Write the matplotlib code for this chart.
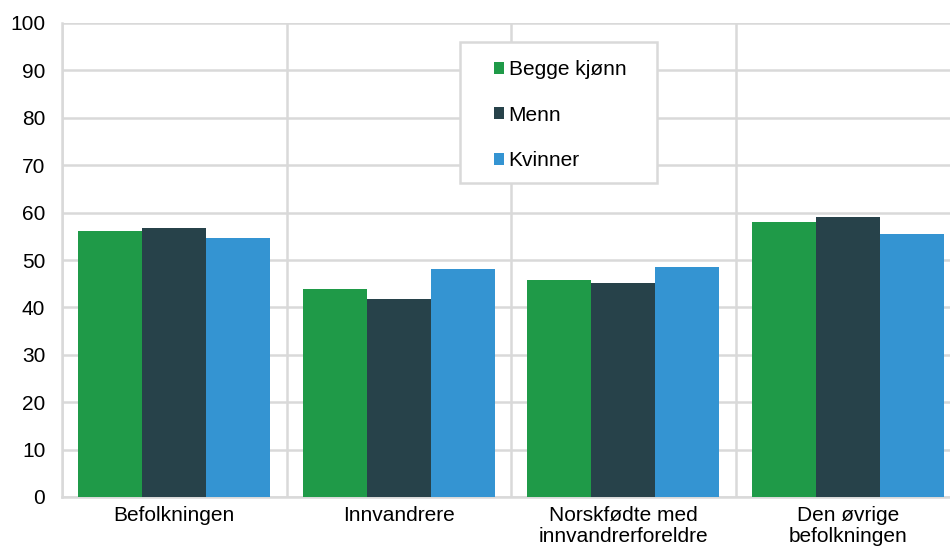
import numpy as np
import matplotlib
matplotlib.use("Agg")
import matplotlib.pyplot as plt
from matplotlib.patches import Patch, Rectangle

plt.rcParams['font.family'] = ['Liberation Sans', 'DejaVu Sans']

categories = ['Befolkningen', 'Innvandrere', 'Norskfødte med\ninnvandrerforeldre', 'Den øvrige\nbefolkningen']
series_names = ['Begge kjønn', 'Menn', 'Kvinner']
begge = [56.2, 43.9, 45.8, 58.0]
menn = [56.7, 41.7, 45.1, 59.0]
kvinner = [54.6, 48.2, 48.5, 55.5]
colors = ['#1f9a48', '#27424a', '#3494d2']

W, H = 950, 549
fs = 15
fig = plt.figure(figsize=(W / 100, H / 100), dpi=100)
ax = fig.add_axes([62 / W, 52 / H, 888 / W, 474 / H])

x = np.arange(len(categories))
w = 0.285
for i, (vals, c) in enumerate(zip([begge, menn, kvinner], colors)):
    ax.bar(x + (i - 1) * w, vals, width=w, color=c, zorder=3, label=series_names[i])

ax.set_xlim(-0.5, 3.455)
ax.set_ylim(0, 100)
ax.set_yticks(np.arange(0, 101, 10))
ax.set_xticks(x)
ax.set_xticklabels(categories, fontsize=fs, linespacing=1.15)
ax.set_xticks(np.arange(-0.5, 3.5, 1), minor=True)
ax.tick_params(axis='both', which='both', length=0, labelsize=fs, colors='black')
ax.tick_params(axis='x', pad=6.5)
ax.tick_params(axis='y', pad=12)
ax.grid(axis='y', color='#d9d9d9', linewidth=1.8, zorder=0)
ax.grid(axis='x', which='minor', color='#d9d9d9', linewidth=1.8, zorder=0)
ax.grid(axis='x', which='major', visible=False)

for s in ['top', 'right']:
    ax.spines[s].set_visible(False)
for s in ['left', 'bottom']:
    ax.spines[s].set_color('#d9d9d9')
    ax.spines[s].set_linewidth(1.8)

# legend box drawn separately so the padding matches
box = Rectangle((460 / W, 1 - 183 / H), 197 / W, 141 / H, transform=fig.transFigure,
                facecolor='white', edgecolor='#d9d9d9', linewidth=1.8, zorder=4)
fig.patches.append(box)

handles = [Patch(facecolor=c) for c in colors]
leg = fig.legend(handles, series_names, loc='upper left', bbox_to_anchor=(494 / W, 1 - 60 / H),
                 fontsize=fs, frameon=False, handlelength=0.5, handleheight=0.5,
                 handletextpad=0.2, labelspacing=1.28, borderpad=0, borderaxespad=0)
leg.set_zorder(5)

fig.savefig('out.png', dpi=100)
